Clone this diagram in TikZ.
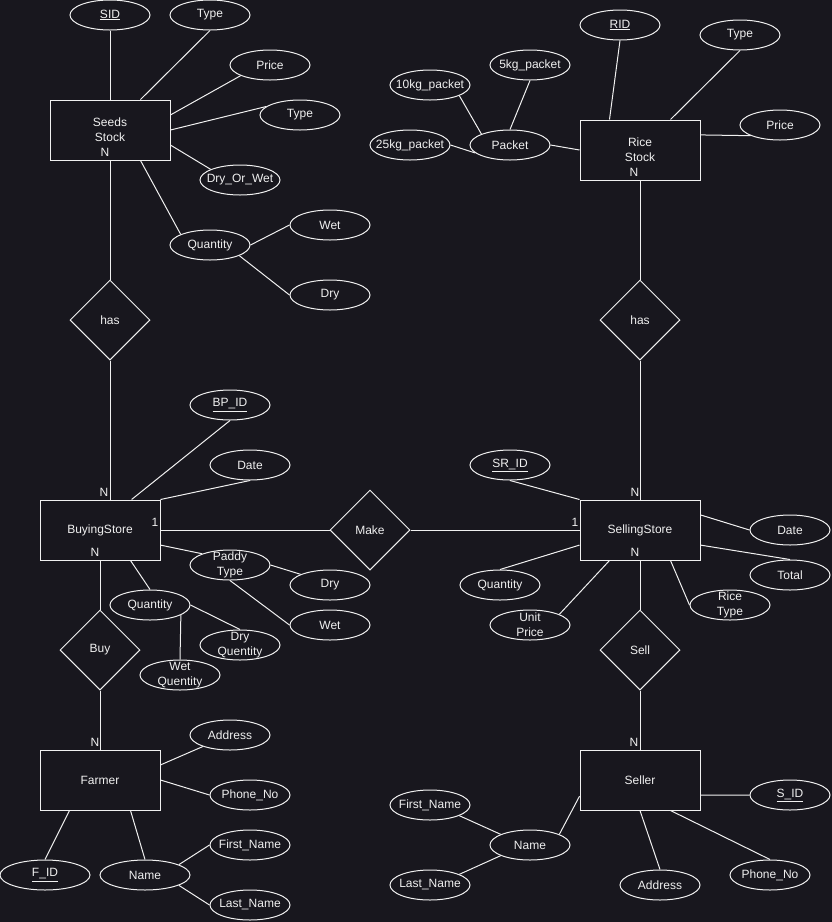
\documentclass[tikz,border=0pt]{standalone}
\usepackage{fontspec}
\setmainfont{Liberation Sans}
\usetikzlibrary{shapes.geometric}
\definecolor{bgcol}{HTML}{18171E}
\definecolor{inkcol}{HTML}{F0F0F0}
\begin{document}
\begin{tikzpicture}[x=1pt,y=-1pt,
  every node/.style={font=\fontsize{12}{15}\selectfont, text=inkcol},
  ent/.style={draw=inkcol, line width=1pt, minimum width=120pt, minimum height=60pt, align=center, inner sep=0pt},
  rel/.style={diamond, draw=inkcol, line width=1pt, minimum width=80pt, minimum height=80pt, inner sep=0pt},
  attr/.style={ellipse, draw=inkcol, line width=1pt, minimum width=80pt, minimum height=30pt, inner xsep=-8pt, inner ysep=-6pt, align=center},
  card/.style={inner sep=0pt},
  link/.style={draw=inkcol, line width=1pt}]
\useasboundingbox (0,0) rectangle (832,922);
\fill[bgcol] (0,0) rectangle (832,922);
\node[ent] (seeds) at (110,130) {Seeds\\Stock};
\node[card] (nSeeds) at (105,152) {N};
\node[attr] (sid) at (110,15) {\underline{SID}};
\node[attr] (seedType) at (210,15) {Type};
\node[attr] (seedPrice) at (270,65) {Price};
\node[attr] (seedType2) at (300,115) {Type};
\node[attr] (dryOrWet) at (240,180) {Dry\_Or\_Wet};
\node[attr] (seedQty) at (210,245) {Quantity};
\node[attr] (seedWet) at (330,225) {Wet};
\node[attr] (seedDry) at (330,295) {Dry};
\node[rel] (hasSeeds) at (110,320) {has};
\draw[link] (sid) -- (seeds);
\draw[link] (seedType.south) -- (seeds.45);
\draw[link] (seedPrice.200) -- (seeds.14);
\draw[link] (seedType2.166) -- (seeds.east);
\draw[link] (dryOrWet.160) -- (seeds.-14);
\draw[link] (seedQty.160) -- (seeds.-45);
\draw[link] (seedQty.east) -- (seedWet.west);
\draw[link] (seedQty.-20) -- (seedDry.west);
\draw[link] (seeds) -- (hasSeeds);
\node[ent] (rice) at (640,150) {Rice\\Stock};
\node[card] (nRice) at (634,172) {N};
\node[attr] (rid) at (620,25) {\underline{RID}};
\node[attr] (riceType) at (740,35) {Type};
\node[attr] (ricePrice) at (780,125) {Price};
\node[attr] (packet) at (510,145) {Packet};
\node[attr] (p10) at (430,85) {10kg\_packet};
\node[attr] (p5) at (530,65) {5kg\_packet};
\node[attr] (p25) at (410,145) {25kg\_packet};
\node[rel] (hasRice) at (640,320) {has};
\draw[link] (rid.south) -- (rice.135);
\draw[link] (riceType.south) -- (rice.45);
\draw[link] (rice.14) -- (ricePrice.200);
\draw[link] (packet.east) -- (rice.west);
\draw[link] (p25.east) -- (packet.193);
\draw[link] (p10.-20) -- (packet.159);
\draw[link] (p5.south) -- (packet.north);
\draw[link] (rice) -- (hasRice);
\node[ent] (buying) at (100,530) {BuyingStore};
\node[card] (nBuyTop) at (104,492) {N};
\node[card] (oneBuy) at (155,522) {1};
\node[card] (nBuyBot) at (95,552) {N};
\node[attr] (bpid) at (230,405) {\underline{BP\_ID}};
\node[attr] (buyDate) at (250,465) {Date};
\node[attr] (paddy) at (230,565) {Paddy\\Type};
\node[attr] (paddyDry) at (330,585) {Dry};
\node[attr] (paddyWet) at (330,625) {Wet};
\node[attr] (buyQty) at (150,605) {Quantity};
\node[attr] (dryQty) at (240,645) {Dry\\Quentity};
\node[attr] (wetQty) at (180,675) {Wet\\Quentity};
\node[rel] (make) at (370,530) {Make};
\node[rel] (buy) at (100,650) {Buy};
\draw[link] (hasSeeds.south) -- (hasSeeds.south |- buying.north);
\draw[link] (bpid.south) -- (buying.44);
\draw[link] (buyDate.south) -- (buying.north east);
\draw[link] (buying) -- (make);
\draw[link] (buying.-14) -- (paddy.158);
\draw[link] (paddy.east) -- (paddyDry.160);
\draw[link] (paddy.south) -- (paddyWet.west);
\draw[link] (buying.-45) -- (buyQty.north);
\draw[link] (buyQty.east) -- (dryQty.north);
\draw[link] (buyQty.-18) -- (wetQty.north);
\draw[link] (buying) -- (buy);
\node[ent] (selling) at (640,530) {SellingStore};
\node[card] (nSellTop) at (635,492) {N};
\node[card] (oneSell) at (575,522) {1};
\node[card] (nSellBot) at (635,552) {N};
\node[attr] (srid) at (510,465) {\underline{SR\_ID}};
\node[attr] (sellDate) at (790,530) {Date};
\node[attr] (total) at (790,575) {Total};
\node[attr] (riceType2) at (730,605) {Rice\\Type};
\node[attr] (sellQty) at (500,585) {Quantity};
\node[attr] (unitPrice) at (530,625) {Unit\\Price};
\node[rel] (sell) at (640,650) {Sell};
\draw[link] (hasRice) -- (selling);
\draw[link] (make) -- (selling);
\draw[link] (srid.south) -- (selling.north west);
\draw[link] (selling.14) -- (sellDate.west);
\draw[link] (selling.-14) -- (total.north);
\draw[link] (selling.-45) -- (riceType2.west);
\draw[link] (sellQty.north) -- (selling.194);
\draw[link] (unitPrice.20) -- (selling.-135);
\draw[link] (selling) -- (sell);
\node[ent] (farmer) at (100,780) {Farmer};
\node[card] (nFarmer) at (95,742) {N};
\node[attr] (fAddr) at (230,735) {Address};
\node[attr] (fPhone) at (250,795) {Phone\_No};
\node[attr, minimum width=90pt] (fid) at (45,875) {\underline{F\_ID}};
\node[attr, minimum width=90pt] (fName) at (145,875) {Name};
\node[attr] (fFirst) at (250,845) {First\_Name};
\node[attr] (fLast) at (250,905) {Last\_Name};
\draw[link] (buy) -- (farmer);
\draw[link] (farmer.14) -- (fAddr.203);
\draw[link] (farmer.east) -- (fPhone.west);
\draw[link] (fid.north) -- (farmer.-135);
\draw[link] (fName.north) -- (farmer.-45);
\draw[link] (fName.17) -- (fFirst.west);
\draw[link] (fName.-17) -- (fLast.west);
\node[ent] (seller) at (640,780) {Seller};
\node[card] (nSeller) at (634,742) {N};
\node[attr] (sid2) at (790,795) {\underline{S\_ID}};
\node[attr] (sAddr) at (660,885) {Address};
\node[attr] (sPhone) at (770,875) {Phone\_No};
\node[attr] (sName) at (530,845) {Name};
\node[attr] (sFirst) at (430,805) {First\_Name};
\node[attr] (sLast) at (430,885) {Last\_Name};
\draw[link] (sell) -- (seller);
\draw[link] (seller.-14) -- (sid2.west);
\draw[link] (seller.south) -- (sAddr.north);
\draw[link] (seller.-45) -- (sPhone.north);
\draw[link] (sName.20) -- (seller.195);
\draw[link] (sFirst.-20) -- (sName.160);
\draw[link] (sLast.20) -- (sName.200);
\end{tikzpicture}
\end{document}
